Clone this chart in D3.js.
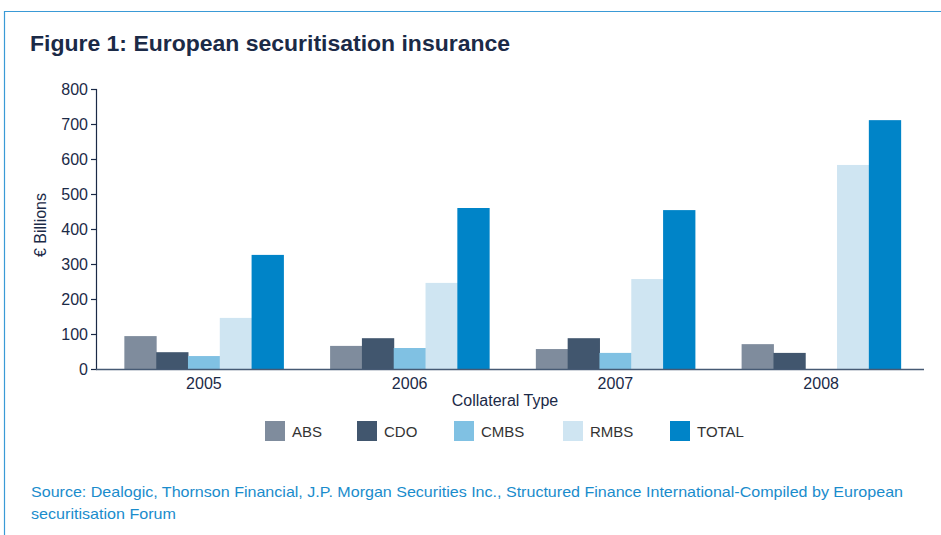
<!DOCTYPE html>
<html><head><meta charset="utf-8">
<script src="https://cdn.jsdelivr.net/npm/d3@7"></script>
<style>body{margin:0;background:#fff}svg{display:block}</style>
</head><body>
<svg id="c" width="941" height="535"></svg>
<script>
const years = ["2005","2006","2007","2008"];
const series = ["ABS","CDO","CMBS","RMBS","TOTAL"];
const ABS   = [94, 66, 57, 71];
const CDO   = [48, 88, 88, 46];
const CMBS  = [37, 60, 46, 0];
const RMBS  = [146, 246, 257, 583];
const TOTAL = [326, 460, 454, 711];
const yTicks = [0,100,200,300,400,500,600,700,800];
const colors = ["#7f8c9d","#41566e","#80c1e3","#cfe5f2","#0084c8"];
const valuesBySeries = {ABS, CDO, CMBS, RMBS, TOTAL};

const svg = d3.select("#c");
const navy = "#1b2a47";
const font = "'Liberation Sans', Arial, Helvetica, sans-serif";

// frame
svg.append("path").attr("d","M4.5,535 V11.5 H941").attr("fill","none")
  .attr("stroke","#3a9ad6").attr("stroke-width",1.2);

svg.append("text").attr("x",30).attr("y",51).attr("font-family",font).attr("font-weight","bold")
  .attr("font-size",22.5).attr("fill",navy).attr("textLength",480).attr("lengthAdjust","spacingAndGlyphs")
  .text("Figure 1: European securitisation insurance");

const y = d3.scaleLinear().domain([0,800]).range([369,89]);
const x0 = d3.scaleBand().domain(years).range([101,924]).paddingInner(0.227).paddingOuter(0.1135);
const x1 = d3.scaleBand().domain(series).range([0, x0.bandwidth()]);
const color = d3.scaleOrdinal().domain(series).range(colors);

const data = years.map((yr,i)=>({year:yr, vals: series.map(s=>({s, v: valuesBySeries[s][i]}))}));

const g = svg.append("g");
g.selectAll("g.grp").data(data).join("g").attr("class","grp")
  .attr("transform",d=>`translate(${x0(d.year)},0)`)
  .selectAll("rect").data(d=>d.vals).join("rect")
  .attr("x",d=>x1(d.s)).attr("width",x1.bandwidth()+0.5)
  .attr("y",d=>y(d.v)).attr("height",d=>y(0)-y(d.v))
  .attr("fill",d=>color(d.s));

// y axis
const ya = svg.append("g").attr("transform","translate(97,0)")
  .call(d3.axisLeft(y).tickValues(yTicks).tickSize(6).tickPadding(3));
ya.select(".domain").attr("stroke",navy).attr("stroke-width",1.2).attr("d","M-0.5,89V369.5");
ya.selectAll(".tick line").attr("stroke",navy).attr("stroke-width",1.2);
ya.selectAll(".tick text").attr("font-family",font).attr("font-size",16).attr("fill",navy);

// x axis
const xa = svg.append("g").attr("transform","translate(0,369)")
  .call(d3.axisBottom(x0).tickSize(0).tickPadding(9));
xa.select(".domain").attr("stroke","#465a74").attr("stroke-width",1.6).attr("d","M96,0.5H924");
xa.selectAll(".tick text").attr("font-family",font).attr("font-size",16).attr("fill",navy);

svg.append("text").attr("x",505).attr("y",406).attr("text-anchor","middle")
  .attr("font-family",font).attr("font-size",16).attr("fill",navy).text("Collateral Type");
svg.append("text").attr("transform","translate(46,225) rotate(-90)").attr("text-anchor","middle")
  .attr("font-family",font).attr("font-size",16).attr("fill",navy).text("€ Billions");

// legend
const legX = [265, 357, 454, 563, 670];
const leg = svg.append("g").selectAll("g").data(series).join("g")
  .attr("transform",(d,i)=>`translate(${legX[i]},421)`);
leg.append("rect").attr("width",20).attr("height",20).attr("fill",d=>color(d));
leg.append("text").attr("x",27).attr("y",15.5).attr("font-family",font).attr("font-size",15)
  .attr("fill","#333").text(d=>d);

// source
const src = svg.append("text").attr("font-family",font).attr("font-size",15).attr("fill","#1a8ccc");
src.append("tspan").attr("x",31).attr("y",497).attr("textLength",872).attr("lengthAdjust","spacingAndGlyphs")
  .text("Source: Dealogic, Thornson Financial, J.P. Morgan Securities Inc., Structured Finance International-Compiled by European");
src.append("tspan").attr("x",31).attr("y",519).attr("textLength",145).attr("lengthAdjust","spacingAndGlyphs")
  .text("securitisation Forum");
</script>
</body></html>
